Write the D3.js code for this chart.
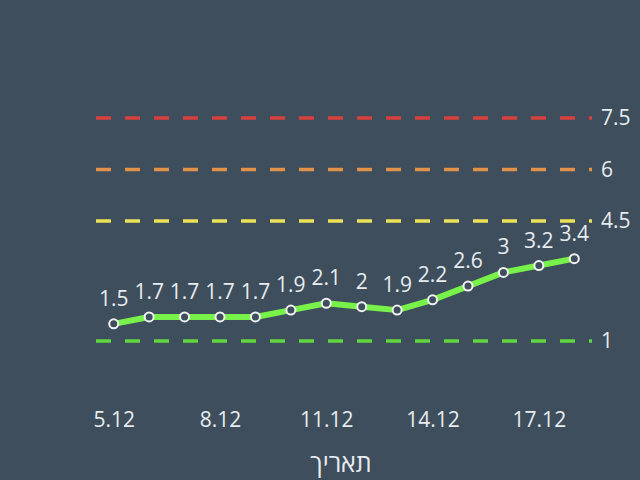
<!DOCTYPE html>
<html>
<head>
<meta charset="utf-8">
<script src="https://cdn.jsdelivr.net/npm/d3@7"></script>
<style>
  html, body { margin: 0; padding: 0; background: #3e4e5c; }
  svg { display: block; }
</style>
</head>
<body>
<svg width="640" height="480"></svg>
<script>
// chart data
const dates = ["5.12", "6.12", "7.12", "8.12", "9.12", "10.12", "11.12",
               "12.12", "13.12", "14.12", "15.12", "16.12", "17.12", "18.12"];
const values = [1.5, 1.7, 1.7, 1.7, 1.7, 1.9, 2.1, 2, 1.9, 2.2, 2.6, 3, 3.2, 3.4];
const tickDates = ["5.12", "8.12", "11.12", "14.12", "17.12"];
const thresholds = [7.5, 6, 4.5, 1];
const thresholdColors = ["#d9403c", "#e3924a", "#ede35a", "#62d63f"];
const axisTitle = "תאריך";

function drawChart() {
    const svg = d3.select("svg");
    const font = "'Open Sans', 'Noto Sans', sans-serif";
    const textColor = "#e6ecf0";

    const x = d3.scalePoint().domain(dates).range([96, 592]).padding(0.5);
    const y = d3.scaleLinear().domain([1, 7.5]).range([341, 118]);

    // threshold lines
    svg.append("g").selectAll("line")
       .data(thresholds)
       .enter().append("line")
       .attr("x1", 96).attr("x2", 592)
       .attr("y1", d => y(d)).attr("y2", d => y(d))
       .attr("stroke", (d, i) => thresholdColors[i])
       .attr("stroke-width", 3.5)
       .attr("stroke-dasharray", "15,14");

    // right axis with threshold values
    const yAxis = svg.append("g")
       .attr("transform", "translate(592,0)")
       .call(d3.axisRight(y).tickValues(thresholds).tickSize(0).tickPadding(9)
                .tickFormat(d3.format("")));
    yAxis.select(".domain").remove();
    yAxis.selectAll("text")
         .attr("fill", textColor).attr("font-family", font).attr("font-size", 21);

    // bottom axis
    const xAxis = svg.append("g")
       .attr("transform", "translate(0,405)")
       .call(d3.axisBottom(x).tickValues(tickDates).tickSize(0));
    xAxis.select(".domain").remove();
    xAxis.selectAll("text")
         .attr("y", 22).attr("dy", 0)
         .attr("fill", textColor).attr("font-family", font).attr("font-size", 21);

    svg.append("text")
       .attr("x", 341).attr("y", 472)
       .attr("text-anchor", "middle")
       .attr("fill", textColor).attr("font-family", font).attr("font-size", 25)
       .text(axisTitle);

    // the series line
    const line = d3.line().x((d, i) => x(dates[i])).y(d => y(d));
    svg.append("path")
       .datum(values)
       .attr("d", line)
       .attr("fill", "none")
       .attr("stroke", "#78f24a")
       .attr("stroke-width", 6)
       .attr("stroke-linejoin", "round");

    svg.append("g").selectAll("circle")
       .data(values)
       .enter().append("circle")
       .attr("cx", (d, i) => x(dates[i]))
       .attr("cy", d => y(d))
       .attr("r", 4.5)
       .attr("fill", "#3e4e5c")
       .attr("stroke", "#f2f2f2")
       .attr("stroke-width", 2);

    svg.append("g").selectAll("text")
       .data(values)
       .enter().append("text")
       .attr("x", (d, i) => x(dates[i]))
       .attr("y", d => y(d) - 18)
       .attr("text-anchor", "middle")
       .attr("fill", textColor).attr("font-family", font).attr("font-size", 21)
       .text(d => d);
}

drawChart();
</script>
</body>
</html>
